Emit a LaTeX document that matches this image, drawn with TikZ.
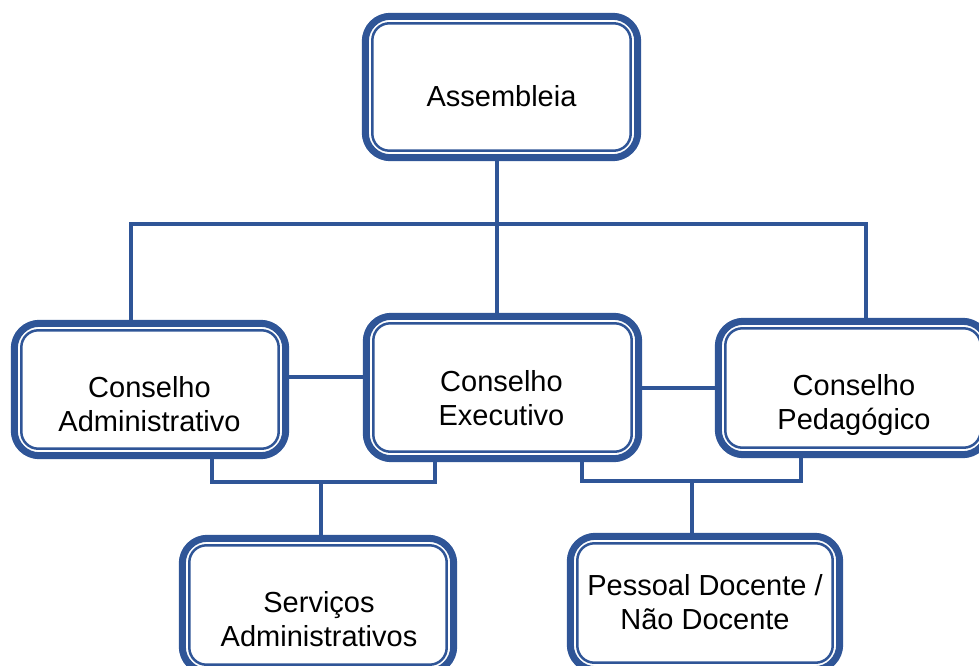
\documentclass[tikz,border=0pt]{standalone}
\usepackage{fontspec}
\setmainfont{Liberation Sans}
\definecolor{orgblue}{RGB}{47,85,151}
\begin{document}
\begin{tikzpicture}[x=1pt,y=-1pt,
  box/.style={draw=orgblue, line width=7pt, rounded corners=25pt, fill=white, inner sep=0pt},
  inner/.style={draw=orgblue, line width=2.5pt, rounded corners=17pt},
  conn/.style={draw=orgblue, line width=4pt, line join=miter},
  lbl/.style={font=\fontsize{29}{34.5}\selectfont, align=center, text=black, inner sep=0pt, text depth=0pt, anchor=south}]
\useasboundingbox (0,0) rectangle (979,666);
\clip (0,0) rectangle (979,666);
% coordinates for connector routing
\coordinate (stem) at (497,224);
\coordinate (hl) at (131,224);
\coordinate (hr) at (866,224);
\coordinate (bl) at (212,482);
\coordinate (bm) at (321,482);
\coordinate (br) at (435,482);
\coordinate (pl) at (582,481);
\coordinate (pm) at (692,481);
\coordinate (pr) at (801,481);
\coordinate (lk1) at (0,377);
\coordinate (lk2) at (0,388);
% boxes (named, drawn later on top)
\path
  node[minimum width=272pt, minimum height=141pt, inner sep=0pt] (asm) at (501.5,87) {}
  node[minimum width=271pt, minimum height=132pt, inner sep=0pt] (ca) at (150,389.5) {}
  node[minimum width=272pt, minimum height=142pt, inner sep=0pt] (ce) at (502.5,387.5) {}
  node[minimum width=269pt, minimum height=133pt, inner sep=0pt] (cp) at (853,388) {}
  node[minimum width=271pt, minimum height=133pt, inner sep=0pt] (sa) at (318,605) {}
  node[minimum width=269pt, minimum height=133pt, inner sep=0pt] (pd) at (705,603) {};
% connectors
\draw[conn] (stem |- asm.south) -- (stem |- ce.north);
\draw[conn] (hl |- ca.north) -- (hl) -- (hr) -- (hr |- cp.north);
\draw[conn] (ca.east |- lk1) -- (ce.west |- lk1);
\draw[conn] (ce.east |- lk2) -- (cp.west |- lk2);
\draw[conn] (bl |- ca.south) -- (bl) -- (br) -- (br |- ce.south);
\draw[conn] (bm) -- (bm |- sa.north);
\draw[conn] (pl |- ce.south) -- (pl) -- (pr) -- (pr |- cp.south);
\draw[conn] (pm) -- (pm |- pd.north);
% box outlines
\foreach \b in {asm,ca,ce,cp,sa,pd}{
  \draw[box] (\b.north west) rectangle (\b.south east);
  \draw[inner] ([xshift=7pt,yshift=-7pt]\b.north west) rectangle ([xshift=-7pt,yshift=7pt]\b.south east);
}
% labels
\node[lbl] (tasm) at (501.5,107) {Assembleia};
\node[lbl] (tca) at (149.5,432) {Conselho\\Administrativo};
\node[lbl] (tce) at (501.5,426) {Conselho\\Executivo};
\node[lbl] (tcp) at (854,430) {Conselho\\Pedagógico};
\node[lbl] (tsa) at (319,647) {Serviços\\Administrativos};
\node[lbl] (tpd) at (705,630) {Pessoal Docente /\\Não Docente};
\end{tikzpicture}
\end{document}
